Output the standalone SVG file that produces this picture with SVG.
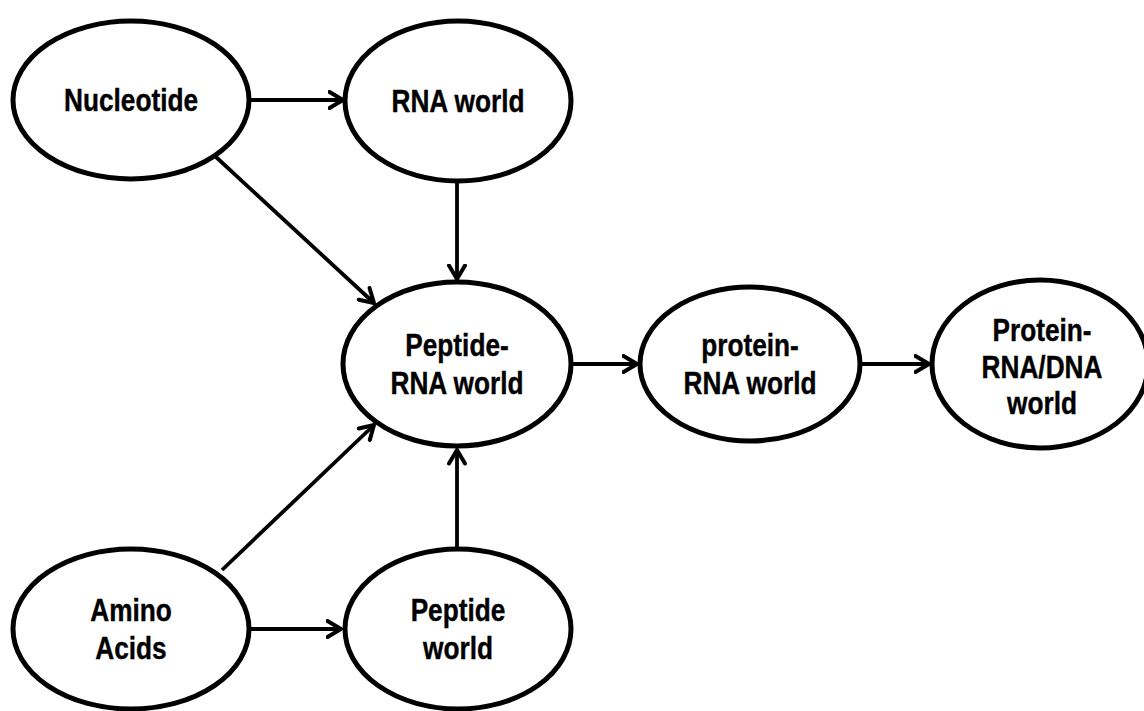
<svg xmlns="http://www.w3.org/2000/svg" width="1144" height="711" viewBox="0 0 1144 711">
<style>
  .node ellipse { fill: #fff; stroke: #000; stroke-width: 5; }
  .node text { font-family: "Liberation Sans", Arial, sans-serif; font-weight: bold; font-size: 32px; fill: #000; stroke: #000; stroke-width: 0.4; text-anchor: middle; }
  .edge { stroke: #000; stroke-width: 3.8; fill: none; marker-end: url(#arr); }
</style>
<defs>
  <marker id="arr" viewBox="0 0 18 20" refX="15.5" refY="10" markerWidth="18" markerHeight="20" markerUnits="userSpaceOnUse" orient="auto">
    <path d="M2,2 L15.5,10 L2,18" fill="none" stroke="#000" stroke-width="4" stroke-linecap="round" stroke-linejoin="round"/>
  </marker>
</defs>
<rect width="1144" height="711" fill="#fff"/>
<g id="connectors">
  <line class="edge" x1="249" y1="100" x2="343" y2="100"/>
  <line class="edge" x1="216" y1="157" x2="374" y2="303"/>
  <line class="edge" x1="457" y1="182" x2="457" y2="279"/>
  <line class="edge" x1="571" y1="364" x2="637" y2="364"/>
  <line class="edge" x1="860" y1="364" x2="929" y2="364"/>
  <line class="edge" x1="222" y1="570" x2="374" y2="425"/>
  <line class="edge" x1="457" y1="548" x2="457" y2="450"/>
  <line class="edge" x1="250" y1="629" x2="341" y2="629"/>
</g>
<g id="nucleotide" class="node">
  <ellipse cx="131" cy="100" rx="118" ry="79"/>
  <text transform="matrix(0.82 0 0 1 131 0)" x="0" y="111">Nucleotide</text>
</g>
<g id="rna-world" class="node">
  <ellipse cx="458" cy="101" rx="113" ry="80"/>
  <text transform="matrix(0.82 0 0 1 458 0)" x="0" y="112">RNA world</text>
</g>
<g id="peptide-rna-world" class="node">
  <ellipse cx="457" cy="364" rx="114" ry="82"/>
  <text transform="matrix(0.82 0 0 1 457 0)" x="0" y="356">Peptide-</text>
  <text transform="matrix(0.82 0 0 1 457 0)" x="0" y="394">RNA world</text>
</g>
<g id="protein-rna-world" class="node">
  <ellipse cx="750" cy="364" rx="110" ry="77"/>
  <text transform="matrix(0.82 0 0 1 750 0)" x="0" y="356">protein-</text>
  <text transform="matrix(0.82 0 0 1 750 0)" x="0" y="394">RNA world</text>
</g>
<g id="protein-rna-dna-world" class="node">
  <ellipse cx="1040" cy="364" rx="108" ry="84"/>
  <text transform="matrix(0.82 0 0 1 1042 0)" x="0" y="341">Protein-</text>
  <text transform="matrix(0.82 0 0 1 1042 0)" x="0" y="378">RNA/DNA</text>
  <text transform="matrix(0.82 0 0 1 1042 0)" x="0" y="414">world</text>
</g>
<g id="amino-acids" class="node">
  <ellipse cx="131" cy="629" rx="118" ry="80"/>
  <text transform="matrix(0.82 0 0 1 131 0)" x="0" y="621">Amino</text>
  <text transform="matrix(0.82 0 0 1 131 0)" x="0" y="659">Acids</text>
</g>
<g id="peptide-world" class="node">
  <ellipse cx="458" cy="629" rx="113" ry="80"/>
  <text transform="matrix(0.82 0 0 1 458 0)" x="0" y="621">Peptide</text>
  <text transform="matrix(0.82 0 0 1 458 0)" x="0" y="659">world</text>
</g>
</svg>
